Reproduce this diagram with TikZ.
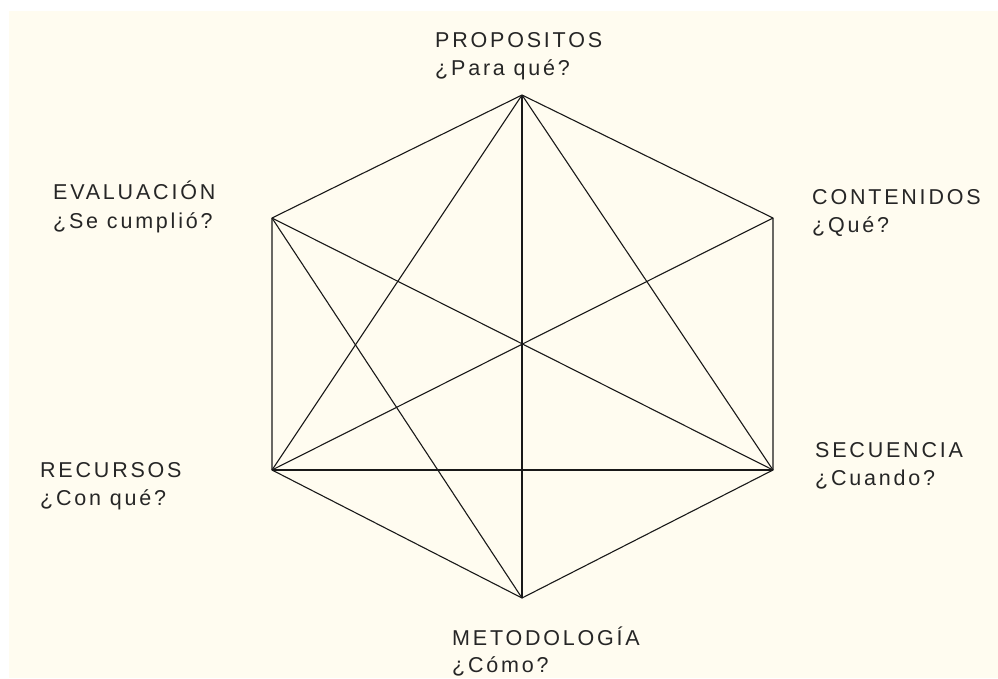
\documentclass[tikz,border=0pt]{standalone}
\usepackage{fontspec}
\setmainfont{Liberation Sans}[LetterSpace=13]
\definecolor{cream}{RGB}{255,252,240}
\begin{document}
\begin{tikzpicture}[x=1pt,y=-1pt,
  lbl/.style={inner sep=0pt, anchor=base west, font=\fontsize{21.5}{25}\selectfont, text=black!85},
  edge/.style={line width=1.1pt, black!90, line join=round}]
\useasboundingbox (0,0) rectangle (998,678);
\fill[white] (0,0) rectangle (998,678);
\fill[cream] (9,11) rectangle (998,678);
% vertices
\coordinate (T) at (522,95);
\coordinate (UR) at (773,218);
\coordinate (LR) at (773,470);
\coordinate (B) at (522,598);
\coordinate (LL) at (272,470);
\coordinate (UL) at (272,218);
% hexagon
\draw[edge] (T) -- (UR) -- (LR) -- (B) -- (LL) -- (UL) -- cycle;
% diagonals
\draw[edge] (T) -- (B);
\draw[edge] (T) -- (LL);
\draw[edge] (T) -- (LR);
\draw[edge] (UL) -- (LR);
\draw[edge] (UL) -- (B);
\draw[edge] (UR) -- (LL);
\draw[edge] (LL) -- (LR);
% labels
\node[lbl] (p1) at (435,47) {PROPOSITOS};
\node[lbl] (p2) at (435,75) {¿Para qué?};
\node[lbl] (e1) at (53,199) {EVALUACIÓN};
\node[lbl] (e2) at (53,228) {¿Se cumplió?};
\node[lbl] (c1) at (812,204) {CONTENIDOS};
\node[lbl] (c2) at (812,232) {¿Qué?};
\node[lbl] (r1) at (40,477) {RECURSOS};
\node[lbl] (r2) at (40,505) {¿Con qué?};
\node[lbl] (s1) at (815,457) {SECUENCIA};
\node[lbl] (s2) at (815,485) {¿Cuando?};
\node[lbl] (m1) at (452,645) {METODOLOGÍA};
\node[lbl] (m2) at (452,672) {¿Cómo?};
\end{tikzpicture}
\end{document}
